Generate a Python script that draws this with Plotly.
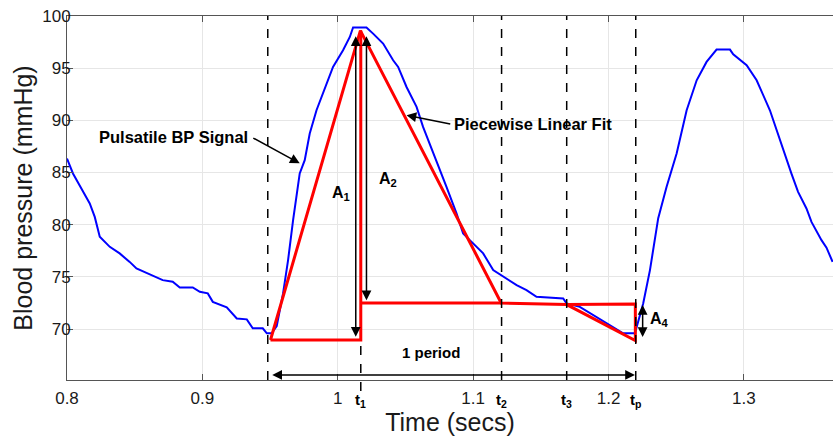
import plotly.graph_objects as go

# ---- data ----
bp_time = [0.800, 0.8044, 0.8106, 0.8168, 0.8205, 0.8242, 0.8316, 0.8389, 0.8463, 0.8513,
           0.8587, 0.8661, 0.8707, 0.8781, 0.8833, 0.8929, 0.8981, 0.9040, 0.9077, 0.9180,
           0.9254, 0.9328, 0.9372, 0.9446, 0.9476, 0.9512, 0.9549, 0.9596, 0.9633, 0.9670,
           0.9719, 0.9756, 0.9793, 0.9843, 0.9892, 0.9965, 1.0039, 1.0089, 1.0113, 1.0212,
           1.0261, 1.0335, 1.0409, 1.0446, 1.0508, 1.0582, 1.0630, 1.0729, 1.0803, 1.0877,
           1.0926, 1.0975, 1.1074, 1.1148, 1.1222, 1.1321, 1.1394, 1.1468, 1.1665, 1.1690,
           1.1788, 1.1886, 1.2010, 1.2108, 1.2195, 1.2256, 1.2306, 1.2367, 1.2429, 1.2503,
           1.2577, 1.2651, 1.2724, 1.2798, 1.2897, 1.2921, 1.3020, 1.3094, 1.3192, 1.3290,
           1.3351, 1.3400, 1.3462, 1.3499, 1.3573, 1.3610, 1.3655]
bp_value = [86.34, 84.91, 83.47, 82.04, 80.75, 78.84, 77.88, 77.25, 76.44, 75.81,
            75.39, 74.95, 74.69, 74.53, 73.99, 73.99, 73.57, 73.42, 72.61, 72.08,
            71.02, 70.93, 70.07, 70.07, 69.59, 69.59, 70.29, 73.42, 76.61, 80.44,
            84.91, 86.18, 88.74, 90.97, 92.57, 95.12, 96.72, 97.99, 98.90, 98.90,
            98.31, 97.36, 95.76, 95.12, 93.20, 91.29, 89.37, 86.18, 83.63, 81.08,
            79.16, 78.52, 77.25, 75.65, 75.01, 74.21, 73.73, 73.09, 72.94, 72.46,
            72.13, 71.34, 70.38, 69.59, 69.59, 72.46, 75.65, 80.63, 83.63, 86.82,
            90.97, 93.84, 95.60, 96.78, 96.78, 96.33, 95.28, 93.84, 90.97, 87.13,
            84.90, 83.15, 81.56, 80.27, 78.52, 77.80, 76.44]

fit_time = [0.9503, 1.0167, 1.1207, 1.1691, 1.2198, 1.2198, 1.1691, None,
            0.9503, 1.0170, 1.0170, None, 1.0170, 1.1207]
fit_value = [68.95, 98.60, 72.50, 72.35, 68.90, 72.40, 72.35, None,
             68.95, 68.95, 98.60, None, 72.50, 72.50]

onset_time = 0.9483
marker_times = [1.0170, 1.1210, 1.1691, 1.2201]
marker_labels = ["t<sub>1</sub>", "t<sub>2</sub>", "t<sub>3</sub>", "t<sub>p</sub>"]

x_ticks = [0.8, 0.9, 1.0, 1.1, 1.2, 1.3]
x_tick_text = ["0.8", "0.9", "1", "1.1", "1.2", "1.3"]
y_ticks = [70, 75, 80, 85, 90, 95, 100]

# amplitude arrows: (x, y_top, y_bottom)
amp_arrows = [(1.0133, 98.05, 69.13), (1.0212, 98.05, 72.61), (1.2252, 72.3, 69.1)]
amp_labels = [("A<sub>1</sub>", 1.0022, 83.0), ("A<sub>2</sub>", 1.0369, 84.3),
              ("A<sub>4</sub>", 1.2378, 70.9)]
period_span = (0.9505, 1.2195, 65.6)

FONT = "Liberation Sans, Arial, Helvetica, sans-serif"

fig = go.Figure()
fig.add_trace(go.Scatter(x=bp_time, y=bp_value, mode="lines",
                         line=dict(color="#0000ff", width=2), showlegend=False))
fig.add_trace(go.Scatter(x=fit_time, y=fit_value, mode="lines", connectgaps=False,
                         line=dict(color="#ff0000", width=3), showlegend=False))

# dashed vertical lines
fig.add_shape(type="line", xref="x", yref="paper", x0=onset_time, x1=onset_time,
              y0=0, y1=1, line=dict(color="black", width=1.5, dash="dash"))
for i, t in enumerate(marker_times):
    y0 = -0.03 if i == 0 else 0
    y1 = 0.105 if i == 0 else 1
    fig.add_shape(type="line", xref="x", yref="paper", x0=t, x1=t, y0=y0, y1=y1,
                  line=dict(color="black", width=1.5, dash="dash"))

ann = []
for lab, t in zip(marker_labels, marker_times):
    ann.append(dict(x=t, y=-0.057, xref="x", yref="paper", text="<b>" + lab + "</b>",
                    showarrow=False, font=dict(family=FONT, size=15, color="black"),
                    xanchor="center", yanchor="middle"))

for (x, yt, yb) in amp_arrows:
    ann.append(dict(x=x, y=yt, ax=x, ay=yb, xref="x", yref="y", axref="x", ayref="y",
                    text="", showarrow=True, arrowhead=2, startarrowhead=2,
                    arrowside="end+start", arrowsize=1.3, startarrowsize=1.3,
                    arrowwidth=1.5, arrowcolor="black"))
for (lab, x, y) in amp_labels:
    ann.append(dict(x=x, y=y, xref="x", yref="y", text="<b>" + lab + "</b>",
                    showarrow=False, font=dict(family=FONT, size=16, color="black")))

t0, t1, yp = period_span
ann.append(dict(x=t1, y=yp, ax=t0, ay=yp, xref="x", yref="y", axref="x", ayref="y",
                text="", showarrow=True, arrowhead=2, startarrowhead=2,
                arrowside="end+start", arrowsize=1.3, startarrowsize=1.3,
                arrowwidth=1.5, arrowcolor="black"))
ann.append(dict(x=1.0687, y=67.73, xref="x", yref="y", text="<b>1 period</b>",
                showarrow=False, font=dict(family=FONT, size=15, color="black")))

# labels with pointer arrows
ann.append(dict(x=0.8785, y=88.38, xref="x", yref="y", text="<b>Pulsatile BP Signal</b>",
                showarrow=False, font=dict(family=FONT, size=16.5, color="black")))
ann.append(dict(x=0.9719, y=85.89, ax=0.9365, ay=88.38, xref="x", yref="y",
                axref="x", ayref="y", text="", showarrow=True, arrowhead=2,
                arrowsize=1.3, arrowwidth=1.5, arrowcolor="black"))
ann.append(dict(x=1.0842, y=89.63, xref="x", yref="y", text="<b>Piecewise Linear Fit</b>",
                showarrow=False, xanchor="left",
                font=dict(family=FONT, size=16.5, color="black")))
ann.append(dict(x=1.0508, y=90.49, ax=1.0842, ay=89.63, xref="x", yref="y",
                axref="x", ayref="y", text="", showarrow=True, arrowhead=2,
                arrowsize=1.3, arrowwidth=1.5, arrowcolor="black"))

fig.update_layout(
    width=833, height=436,
    margin=dict(l=67, r=0, t=16, b=56, autoexpand=False),
    paper_bgcolor="white", plot_bgcolor="white",
    font=dict(family=FONT, color="#1a1a1a"),
    annotations=ann,
    xaxis=dict(range=[0.8, 1.3658], tickvals=x_ticks, ticktext=x_tick_text,
               automargin=False,
               showgrid=True, gridcolor="#e6e6e6", gridwidth=1,
               ticks="inside", ticklen=6, tickcolor="#555", tickwidth=1,
               showline=True, linecolor="#555", linewidth=1, mirror="ticks",
               zeroline=False, tickfont=dict(size=17, family=FONT, color="#1a1a1a"),
               ticklabelstandoff=3,
               title=dict(text="Time (secs)", font=dict(size=25, family=FONT, color="#1a1a1a"),
                          standoff=5)),
    yaxis=dict(range=[65.12, 100], tickvals=y_ticks, automargin=False,
               showgrid=True, gridcolor="#e6e6e6", gridwidth=1,
               ticks="inside", ticklen=6, tickcolor="#555", tickwidth=1,
               showline=True, linecolor="#555", linewidth=1, mirror=False,
               zeroline=False, tickfont=dict(size=17, family=FONT, color="#1a1a1a"),
               ticklabelstandoff=-8,
               title=dict(text="Blood pressure (mmHg)",
                          font=dict(size=25, family=FONT, color="#1a1a1a"), standoff=2)),
)

fig.write_html("out.html", post_script="document.body.style.margin='0';",
               config={"displayModeBar": False})
